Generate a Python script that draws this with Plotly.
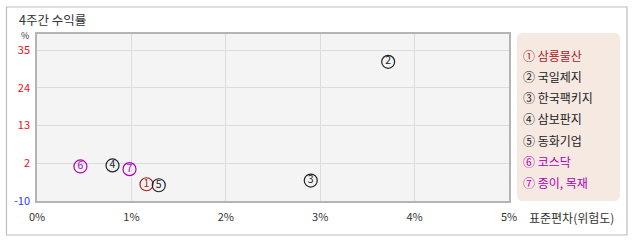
import plotly.graph_objects as go

# Data
names = ["삼룡물산", "국일제지", "한국팩키지", "삼보판지", "동화기업", "코스닥", "종이, 목재"]
marks = ["①", "②", "③", "④", "⑤", "⑥", "⑦"]
nums = ["1", "2", "3", "4", "5", "6", "7"]
risk = [1.16, 3.72, 2.90, 0.80, 1.29, 0.46, 0.98]        # std dev (%)
ret4w = [-5.0, 31.5, -3.9, 0.6, -5.3, 0.3, -0.5]         # 4-week return (%)
colors = ["#b0201e", "#222222", "#222222", "#222222", "#222222", "#b000b8", "#b000b8"]

ytick_vals = [-10, 1.25, 12.5, 23.75, 35]
ytick_text = ['<span style="color:#2a3bff">-10</span>', "2", "13", "24", "35"]
xtick_vals = [0, 1, 2, 3, 4, 5]
xtick_text = ["0%", "1%", "2%", "3%", "4%", "5%"]

W, H = 638, 242
L, R, T, B = 37, 129, 34, 41
pw, ph = W - L - R, H - T - B

def px(x):
    return (x - L) / pw

def py(y):
    return (H - B - y) / ph

font = "Noto Sans CJK KR"

fig = go.Figure()
fig.add_trace(go.Scatter(
    x=risk, y=ret4w, mode="markers+text", text=nums,
    textposition="middle center",
    textfont=dict(family=font, size=10.5, color=colors),
    marker=dict(symbol="circle-open", size=13, color=colors, line=dict(width=1.2, color=colors)),
    showlegend=False, cliponaxis=False,
))

shapes = []
# outer frame
shapes.append(dict(type="rect", xref="paper", yref="paper",
                   x0=px(6.5), x1=px(627), y0=py(235), y1=py(7),
                   line=dict(color="#bdbdbd", width=1.2), fillcolor="rgba(0,0,0,0)", layer="below"))
# legend background with rounded corners
x0, x1, y0, y1, r = 517, 620, 33, 201, 6
path = (f"M {x0+r},{y0} L {x1-r},{y0} Q {x1},{y0} {x1},{y0+r} L {x1},{y1-r} Q {x1},{y1} {x1-r},{y1} "
        f"L {x0+r},{y1} Q {x0},{y1} {x0},{y1-r} L {x0},{y0+r} Q {x0},{y0} {x0+r},{y0} Z")
def conv(p):
    out = []
    for tok in p.split(" "):
        if "," in tok:
            a, b = tok.split(",")
            out.append(f"{px(float(a)):.5f},{py(float(b)):.5f}")
        else:
            out.append(tok)
    return " ".join(out)
shapes.append(dict(type="path", xref="paper", yref="paper", path=conv(path),
                   fillcolor="#f6e9e2", line=dict(width=0), layer="below"))

annotations = []
annotations.append(dict(text="4주간 수익률", x=px(17), y=py(19), xref="paper", yref="paper",
                        xanchor="left", yanchor="middle", showarrow=False,
                        font=dict(family=font, size=12.5, color="#333333")))
annotations.append(dict(text="%", x=px(25), y=py(35.5), xref="paper", yref="paper",
                        xanchor="center", yanchor="middle", showarrow=False,
                        font=dict(family=font, size=9, color="#333333")))
annotations.append(dict(text="표준편차(위험도)", x=px(527), y=py(217), xref="paper", yref="paper",
                        xanchor="left", yanchor="middle", showarrow=False,
                        font=dict(family=font, size=12, color="#333333")))
for i, (m, n, c) in enumerate(zip(marks, names, colors)):
    annotations.append(dict(text=f"{m} {n}", x=px(521), y=py(55 + i * 21.3), xref="paper", yref="paper",
                            xanchor="left", yanchor="middle", showarrow=False,
                            font=dict(family=font, size=12, color=c)))

fig.update_layout(
    width=W, height=H, margin=dict(l=L, r=R, t=T, b=B),
    paper_bgcolor="white", plot_bgcolor="#f4f4f4",
    shapes=shapes, annotations=annotations,
    xaxis=dict(range=[0, 5], tickvals=xtick_vals, ticktext=xtick_text, showgrid=True, gridcolor="#dcdcdc",
               gridwidth=1, zeroline=False, showline=True, linecolor="#b4b4b4", linewidth=1.5, mirror=True,
               ticks="", tickfont=dict(family=font, size=11, color="#333333"), ticklabelstandoff=5),
    yaxis=dict(range=[-10, 39.8], tickvals=ytick_vals, ticktext=ytick_text, showgrid=True,
               gridcolor="#dcdcdc", gridwidth=1, zeroline=False, showline=True, linecolor="#b4b4b4",
               linewidth=1.5, mirror=True, ticks="", tickfont=dict(family=font, size=11, color="#ee1111"),
               ticklabelstandoff=3),
)

fig.write_html("out.html")
